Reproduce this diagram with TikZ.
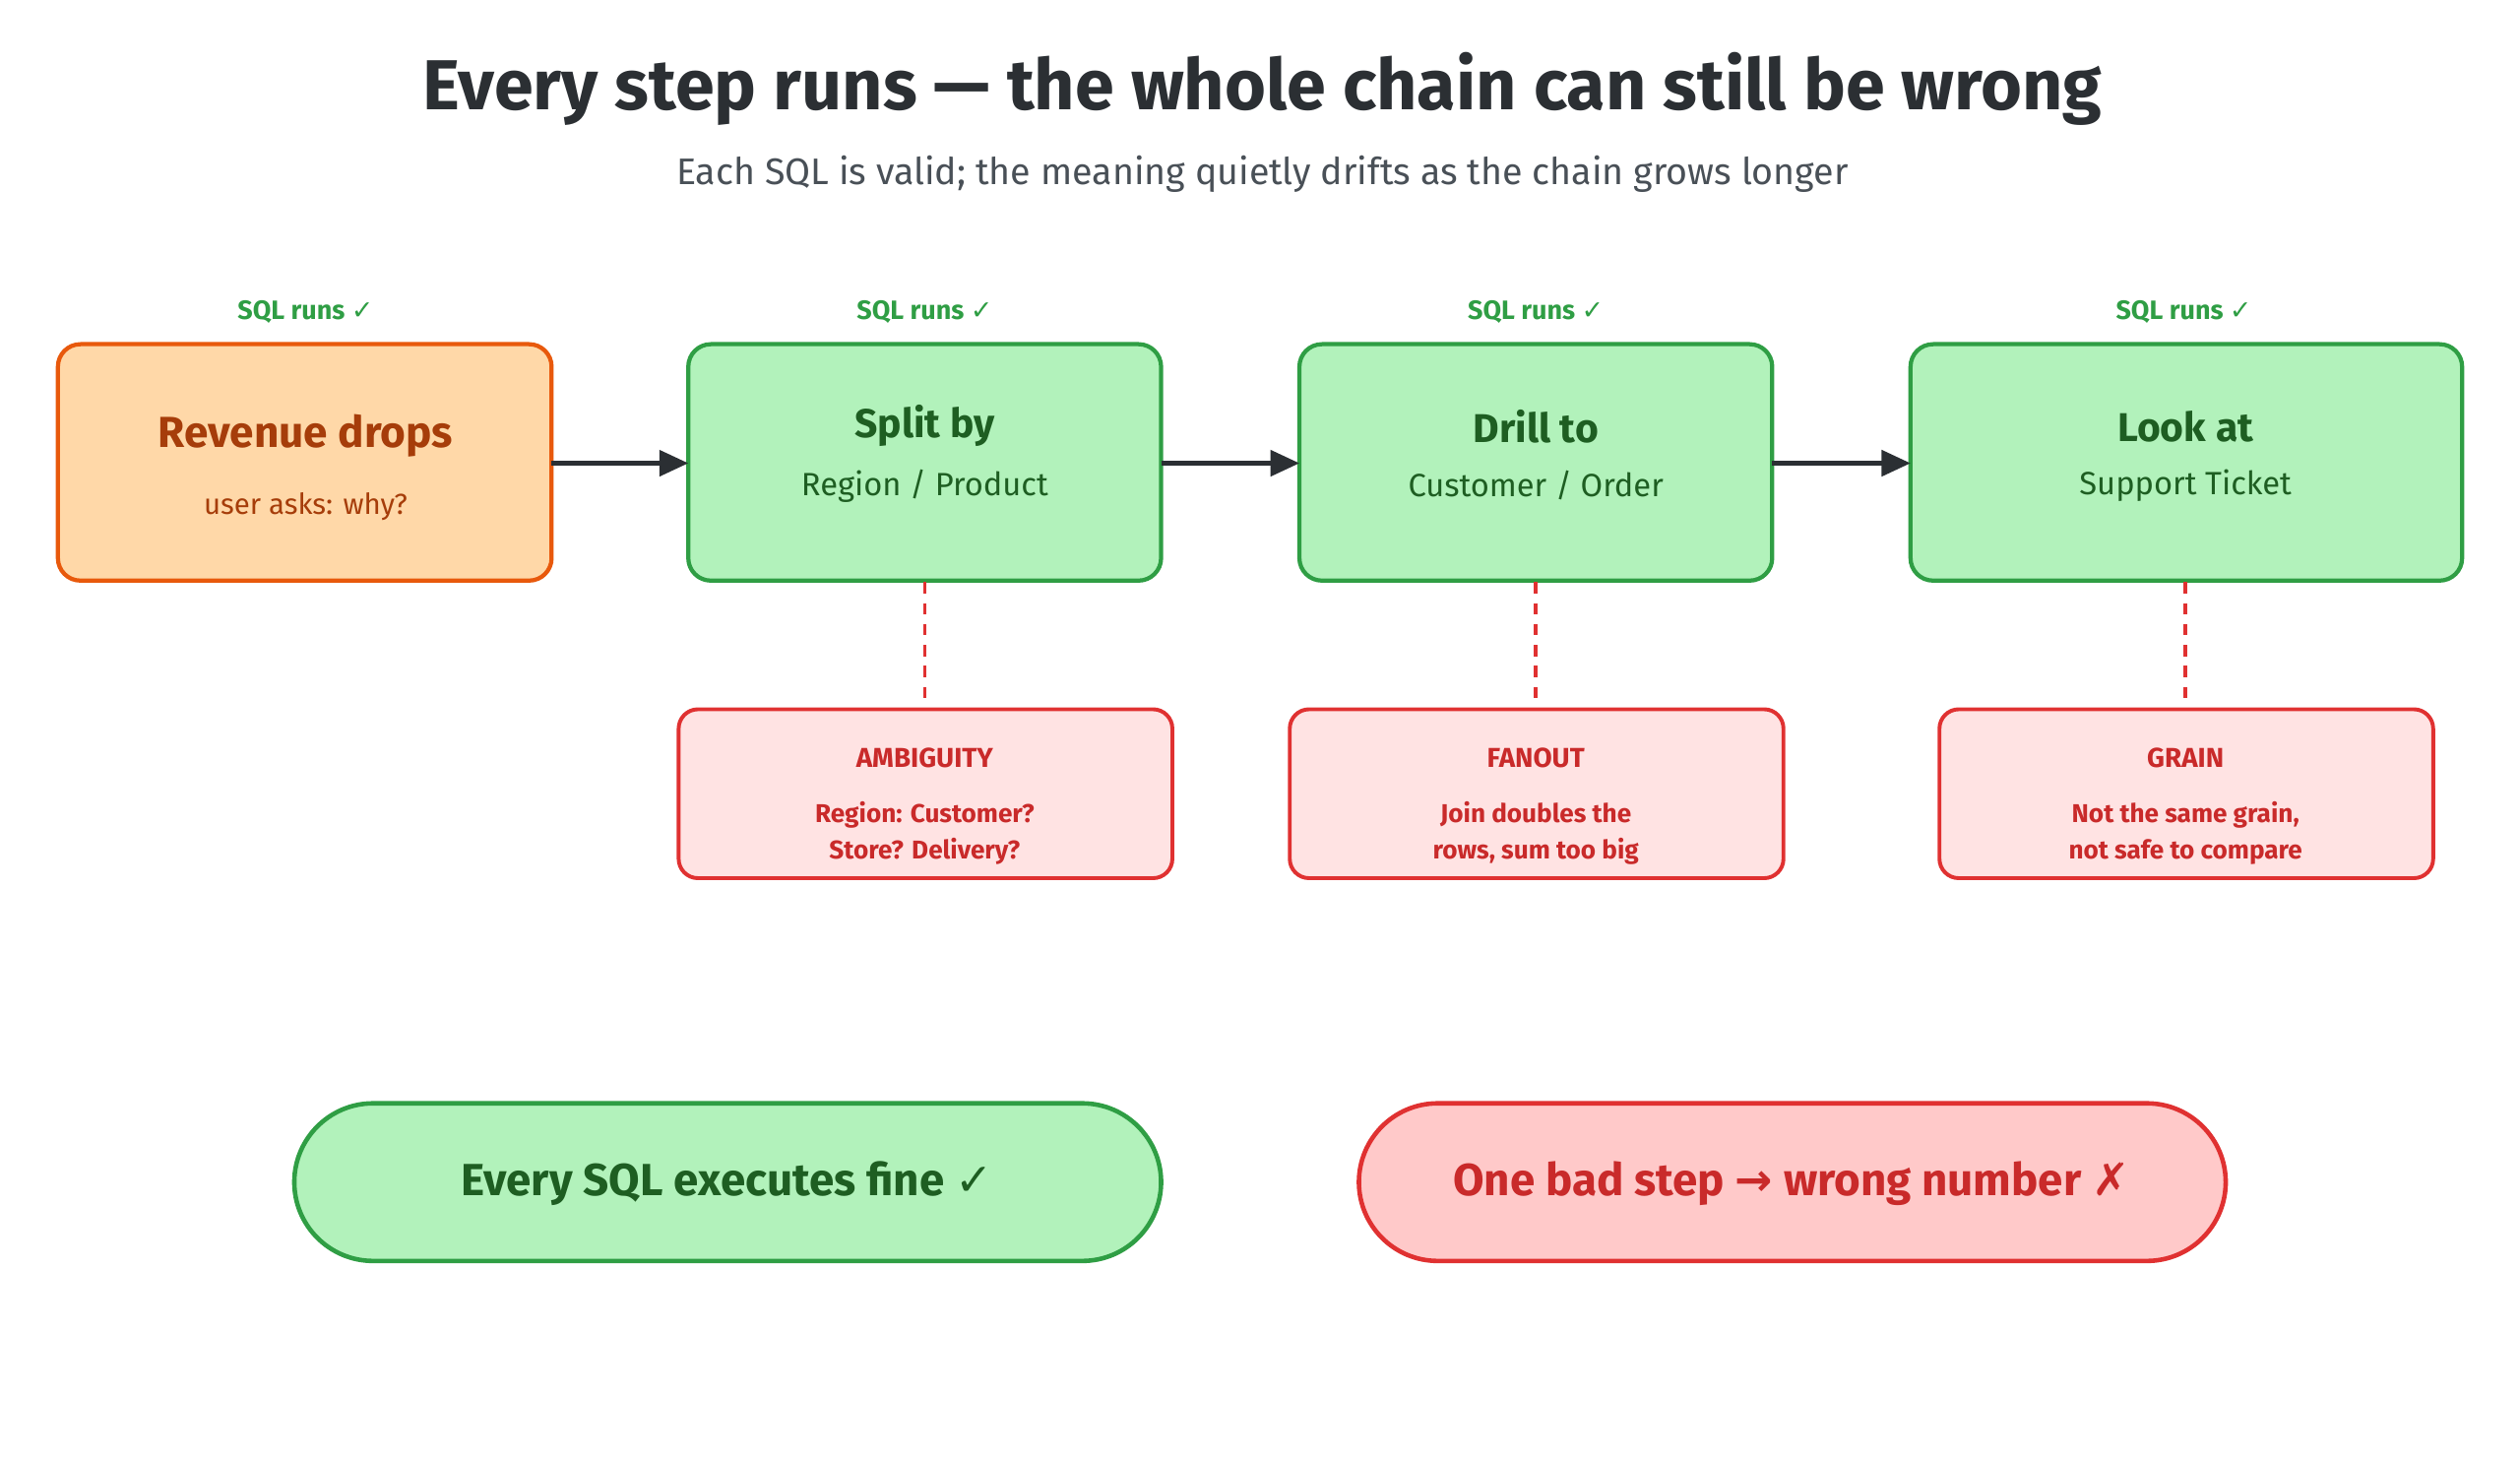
\documentclass[tikz,border=0pt]{standalone}
\usepackage{fontspec}
\setmainfont{Fira Sans}
\newfontfamily\symf{DejaVu Sans}
\newcommand{\sy}[1]{{\symf #1}}
\usetikzlibrary{arrows.meta}
\definecolor{ofill}{HTML}{FFD8A8}\definecolor{oline}{HTML}{E8590C}\definecolor{otext}{HTML}{A63D0A}
\definecolor{gfill}{HTML}{B2F2BB}\definecolor{gline}{HTML}{2F9E44}\definecolor{gtext}{HTML}{1E5E22}
\definecolor{rfill}{HTML}{FFE3E3}\definecolor{rline}{HTML}{E03131}\definecolor{rtext}{HTML}{C92A2A}
\definecolor{pfill}{HTML}{FFC9C9}\definecolor{dark}{HTML}{2B2F33}\definecolor{sub}{HTML}{495057}
\begin{document}
\begin{tikzpicture}[x=1pt,y=-1pt,
 box/.style={draw,line width=2.6pt,rounded corners=14pt},
 arr/.style={draw=dark,line width=2.6pt,-{Triangle[length=18pt,width=16pt]}},
 reddash/.style={draw=rline,line width=2.2pt,dash pattern=on 7pt off 6pt},
 sql/.style={text=gline,font=\fontsize{16.5}{18}\selectfont\bfseries},
 bt/.style={font=\fontsize{25}{28}\selectfont\bfseries},
 bs/.style={font=\fontsize{20}{23}\selectfont},
 rt/.style={text=rtext,font=\fontsize{17}{20}\selectfont\bfseries},
 rs/.style={text=rtext,font=\fontsize{16}{23}\selectfont\bfseries,align=center}]
\useasboundingbox[fill=white] (0,0) rectangle (1567,906);
\node[text=dark,font=\fontsize{44}{48}\selectfont\bfseries] (title) at (785,55) {Every step runs — the whole chain can still be wrong};
\node[text=sub,font=\fontsize{23}{26}\selectfont] (subt) at (785,108) {Each SQL is valid; the meaning quietly drifts as the chain grows longer};
% main boxes
\path[box,draw=oline,fill=ofill] (36,214) rectangle (343,361);
\path[box,draw=gline,fill=gfill] (428,214) rectangle (722,361);
\path[box,draw=gline,fill=gfill] (808,214) rectangle (1102,361);
\path[box,draw=gline,fill=gfill] (1188,214) rectangle (1531,361);
\coordinate (b1e) at (343,288);\coordinate (b2w) at (428,288);\coordinate (b2e) at (722,288);
\coordinate (b3w) at (808,288);\coordinate (b3e) at (1102,288);\coordinate (b4w) at (1188,288);
\node[bt,text=otext,font=\fontsize{27}{30}\selectfont\bfseries] (t1) at (190,271) {Revenue drops};
\node[bs,text=otext,font=\fontsize{18}{20}\selectfont] (s1) at (190,315) {user asks: why?};
\node[bt,text=gtext] (t2) at (575,265) {Split by};
\node[bs,text=gtext] (s2) at (575,302) {Region / Product};
\node[bt,text=gtext] (t3) at (955,265) {Drill to};
\node[bs,text=gtext] (s3) at (955,302) {Customer / Order};
\node[bt,text=gtext] (t4) at (1359,265) {Look at};
\node[bs,text=gtext] (s4) at (1359,302) {Support Ticket};
\foreach \x/\n in {190/q1,575/q2,955/q3,1358/q4}{\node[sql] (\n) at (\x,194) {SQL runs \sy{✓}};}
\draw[arr] (b1e) -- (b2w); \draw[arr] (b2e) -- (b3w); \draw[arr] (b3e) -- (b4w);
% red boxes
\path[box,draw=rline,fill=rfill,line width=2.4pt,rounded corners=12pt] (422,441) rectangle (729,546);
\path[box,draw=rline,fill=rfill,line width=2.4pt,rounded corners=12pt] (802,441) rectangle (1109,546);
\path[box,draw=rline,fill=rfill,line width=2.4pt,rounded corners=12pt] (1206,441) rectangle (1513,546);
\coordinate (d2a) at (575,362);\coordinate (d2b) at (575,440);
\coordinate (d3a) at (955,362);\coordinate (d3b) at (955,440);
\coordinate (d4a) at (1359,362);\coordinate (d4b) at (1359,440);
\draw[reddash] (d2a) -- (d2b); \draw[reddash] (d3a) -- (d3b); \draw[reddash] (d4a) -- (d4b);
\node[rt] (r2) at (575,471) {AMBIGUITY};
\node[rs] (r2s) at (575,518) {Region: Customer?\\Store? Delivery?};
\node[rt] (r3) at (955,471) {FANOUT};
\node[rs] (r3s) at (955,518) {Join doubles the\\rows, sum too big};
\node[rt] (r4) at (1359,471) {GRAIN};
\node[rs] (r4s) at (1359,518) {Not the same grain,\\not safe to compare};
% pills
\path[draw=gline,fill=gfill,line width=2.8pt,rounded corners=49pt] (183,686) rectangle (722,784);
\path[draw=rline,fill=pfill,line width=2.8pt,rounded corners=49pt] (845,686) rectangle (1384,784);
\node[text=gtext,font=\fontsize{28}{32}\selectfont\bfseries] (p1) at (452,736) {Every SQL executes fine \sy{✓}};
\node[text=rtext,font=\fontsize{28}{32}\selectfont\bfseries] (p2) at (1114,736) {One bad step \sy{→} wrong number \sy{✗}};
\end{tikzpicture}
\end{document}
